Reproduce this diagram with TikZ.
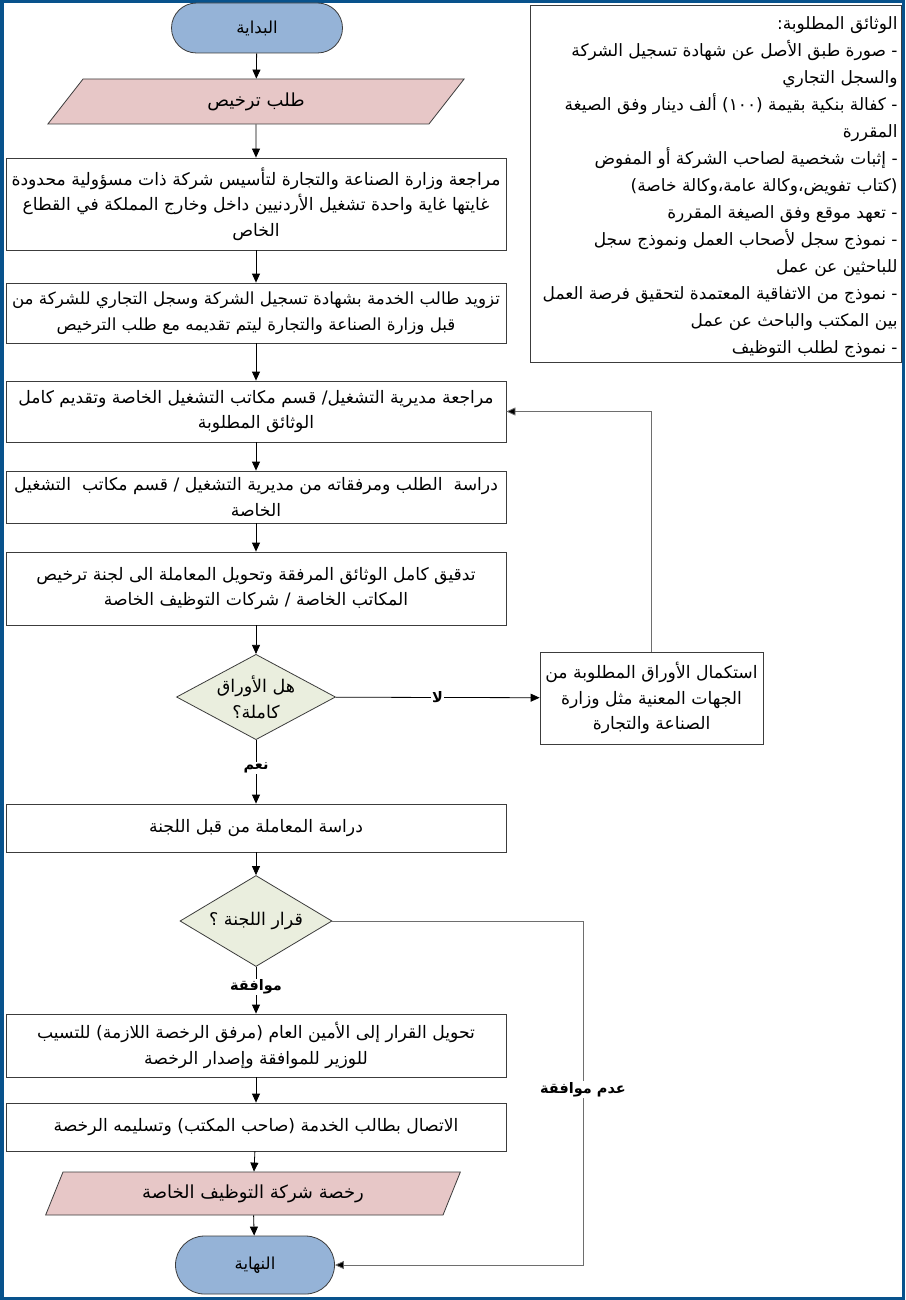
\documentclass[tikz,border=0pt]{standalone}
\usepackage{fontspec}
\setmainfont{DejaVu Sans}
\newfontfamily\arabicfont[Script=Arabic]{DejaVu Sans}
\TeXXeTstate=1
\usetikzlibrary{shapes.geometric,shapes.misc,arrows.meta,calc}
\newcommand{\AR}[1]{\beginR #1\endR}
\definecolor{frameblue}{RGB}{8,82,140}
\definecolor{termfill}{RGB}{149,179,215}
\definecolor{parafill}{RGB}{231,199,199}
\definecolor{diafill}{RGB}{234,238,222}
\definecolor{linegray}{RGB}{60,60,60}
\definecolor{loopgray}{RGB}{110,110,110}
\tikzset{
  base/.style={draw=linegray, line width=0.8pt, align=center, inner sep=2pt,
    font=\arabicfont\fontsize{17.2}{25.5}\selectfont},
  box/.style={base, rectangle, minimum width=500pt},
  term/.style={base, rounded rectangle, fill=termfill, font=\arabicfont\fontsize{16.5}{20}\selectfont},
  para/.style={base, trapezium, trapezium left angle=65, trapezium right angle=115,
    trapezium stretches=true, fill=parafill, font=\arabicfont\fontsize{18}{22}\selectfont},
  dia/.style={base, diamond, fill=diafill, inner sep=-9pt, font=\arabicfont\fontsize{17.5}{26}\selectfont},
  lbl/.style={fill=white, inner sep=1pt, font=\arabicfont\bfseries\fontsize{14.5}{16}\selectfont},
  arr/.style={draw=black, line width=0.8pt, -{Triangle[length=9pt,width=8pt]}},
  looparr/.style={draw=loopgray, line width=0.8pt, -{Triangle[length=9pt,width=8pt,fill=black]}},
}
\begin{document}
\begin{tikzpicture}[x=1pt,y=-1pt]
\useasboundingbox (0,0) rectangle (905,1300);
\fill[white] (0,0) rectangle (905,1300);
\draw[frameblue, line width=3.5pt] (1.75,1.75) rectangle (903.25,1298.25);

\node[term, minimum width=175pt, minimum height=50pt] (start) at (257,28) {\AR{البداية}};
\node[para, minimum width=417pt, minimum height=45pt] (req) at (256,101.5) {\AR{طلب ترخيص}};
\node[box, minimum height=92pt] (b1) at (256,204) {\AR{مراجعة وزارة الصناعة والتجارة لتأسيس شركة ذات مسؤولية محدودة}\\\AR{غايتها غاية واحدة تشغيل الأردنيين داخل وخارج المملكة في القطاع}\\\AR{الخاص}};
\node[box, minimum height=60pt, font=\arabicfont\fontsize{16.7}{25.5}\selectfont] (b2) at (256,313) {\AR{تزويد طالب الخدمة بشهادة تسجيل الشركة وسجل التجاري للشركة من}\\\AR{قبل وزارة الصناعة والتجارة ليتم تقديمه مع طلب الترخيص}};
\node[box, minimum height=61pt] (b3) at (256,411.5) {\AR{مراجعة مديرية التشغيل/ قسم مكاتب التشغيل الخاصة وتقديم كامل}\\\AR{الوثائق المطلوبة}};
\node[box, minimum height=52pt] (b4) at (256,497) {\AR{دراسة \ الطلب ومرفقاته من مديرية التشغيل / قسم مكاتب \ التشغيل}\\\AR{الخاصة}};
\node[box, minimum height=73pt] (b5) at (256,588.5) {\AR{تدقيق كامل الوثائق المرفقة وتحويل المعاملة الى لجنة ترخيص}\\\AR{المكاتب الخاصة / شركات التوظيف الخاصة}};
\node[dia, minimum width=159pt, minimum height=85pt] (d1) at (256,697) {\AR{هل الأوراق}\\\AR{كاملة؟}};
\node[base, rectangle, minimum width=223pt, minimum height=92pt] (side) at (651.5,698) {\AR{استكمال الأوراق المطلوبة من}\\\AR{الجهات المعنية مثل وزارة}\\\AR{الصناعة والتجارة}};
\node[box, minimum height=48pt] (b6) at (256,828) {\AR{دراسة المعاملة من قبل اللجنة}};
\node[dia, minimum width=152pt, minimum height=91pt] (d2) at (256,921) {\AR{قرار اللجنة ؟}};
\node[box, minimum height=63pt] (b7) at (256,1045.5) {\AR{تحويل القرار إلى الأمين العام (مرفق الرخصة اللازمة) للتسيب}\\\AR{للوزير للموافقة وإصدار الرخصة}};
\node[box, minimum height=48pt] (b8) at (256,1127) {\AR{الاتصال بطالب الخدمة (صاحب المكتب) وتسليمه الرخصة}};
\node[para, minimum width=415pt, minimum height=43pt] (lic) at (253,1193.5) {\AR{رخصة شركة التوظيف الخاصة}};
\node[term, minimum width=163pt, minimum height=58pt] (end) at (255,1265) {\AR{النهاية}};

\node[base, rectangle, minimum width=371pt, minimum height=357pt, anchor=north west] (docs) at (530,5) {};
\node[anchor=north east, align=right, inner sep=0pt, font=\arabicfont\fontsize{17}{27}\selectfont] (doctext) at ([xshift=-4pt,yshift=-11pt]docs.north east) {%
\AR{الوثائق المطلوبة:}\\
\AR{- صورة طبق الأصل عن شهادة تسجيل الشركة}\\
\AR{والسجل التجاري}\\
\AR{- كفالة بنكية بقيمة (١٠٠) ألف دينار وفق الصيغة}\\
\AR{المقررة}\\
\AR{- إثبات شخصية لصاحب الشركة أو المفوض}\\
\AR{(كتاب تفويض،وكالة عامة،وكالة خاصة)}\\
\AR{- تعهد موقع وفق الصيغة المقررة}\\
\AR{- نموذج سجل لأصحاب العمل ونموذج سجل}\\
\AR{للباحثين عن عمل}\\
\AR{- نموذج من الاتفاقية المعتمدة لتحقيق فرصة العمل}\\
\AR{بين المكتب والباحث عن عمل}\\
\AR{- نموذج لطلب التوظيف}};

\draw[arr] (start) -- (req);
\draw[arr] (req) -- (b1);
\draw[arr] (b1) -- (b2);
\draw[arr] (b2) -- (b3);
\draw[arr] (b3) -- (b4);
\draw[arr] (b4) -- (b5);
\draw[arr] (b5) -- (d1);
\draw[arr] (d1) -- node[lbl, pos=0.5] (no) {\AR{لا}} (side);
\draw[looparr] (side.north) |- (b3.east);
\draw[arr] (d1) -- node[lbl, pos=0.44] (yes) {\AR{نعم}} (b6);
\draw[arr] (b6) -- (d2);
\draw[arr] (d2) -- node[lbl, pos=0.43] (ok) {\AR{موافقة}} (b7);
\draw[arr] (b7) -- (b8);
\draw[arr] (b8) -- (lic);
\draw[arr] (lic) -- (end);
\coordinate (c1) at (583,921);
\coordinate (c2) at (583,1265);
\draw[looparr] (d2.east) -- (c1) -- node[lbl, pos=0.49] (notok) {\AR{عدم موافقة}} (c2) -- (end.east);
\end{tikzpicture}
\end{document}
